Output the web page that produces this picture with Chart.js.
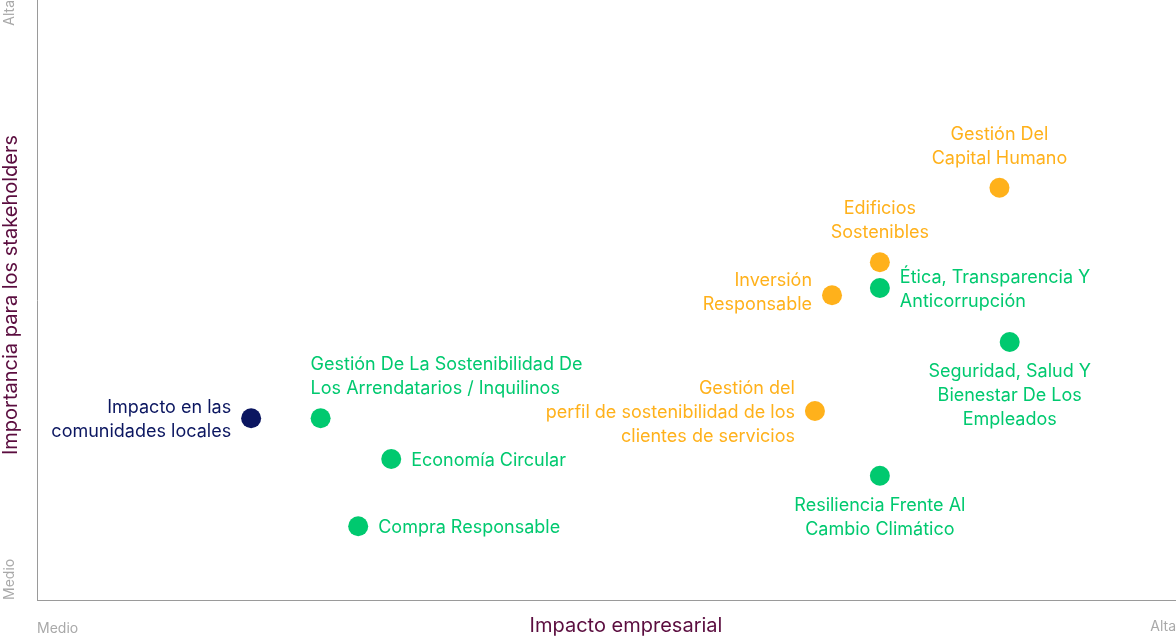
<!DOCTYPE html>
<html>
<head>
<meta charset="utf-8">
<script src="https://cdn.jsdelivr.net/npm/chart.js@4"></script>
<style>
  html, body { margin: 0; padding: 0; background: #fff; }
  #wrap { width: 1176px; height: 639px; position: relative; }
</style>
</head>
<body>
<div id="wrap"><canvas id="matrix"></canvas></div>
<script>
// materiality matrix — values on a 0..100 scale (Medio -> Alta)
const topics = [
  'Impacto en las\ncomunidades locales',
  'Gestión De La Sostenibilidad De\nLos Arrendatarios / Inquilinos',
  'Economía Circular',
  'Compra Responsable',
  'Gestión Del\nCapital Humano',
  'Edificios\nSostenibles',
  'Ética, Transparencia Y\nAnticorrupción',
  'Inversión\nResponsable',
  'Seguridad, Salud Y\nBienestar De Los\nEmpleados',
  'Gestión del\nperfil de sostenibilidad de los\nclientes de servicios',
  'Resiliencia Frente Al\nCambio Climático'
];
const impactoEmpresarial = [18.8, 24.9, 31.1, 28.2, 84.5, 74.0, 74.0, 69.8, 85.4, 68.3, 74.0];
const importanciaStakeholders = [30.3, 30.3, 23.5, 12.3, 68.7, 56.3, 52.0, 50.8, 43.0, 31.5, 20.7];
const grupo = ['social', 'ambiental', 'ambiental', 'ambiental', 'gobierno', 'gobierno', 'ambiental', 'gobierno', 'ambiental', 'gobierno', 'ambiental'];
// where the label sits relative to its dot
const labelPos = ['left', 'above', 'right', 'right', 'above', 'above', 'right', 'left', 'below', 'left', 'below'];

const COLORS = { social: '#0b1660', ambiental: '#00c96f', gobierno: '#ffb11b' };
const FONT = "Inter, 'Open Sans', sans-serif";

const points = impactoEmpresarial.map((x, i) => ({ x, y: importanciaStakeholders[i] }));

const labelsPlugin = {
  id: 'matrixLabels',
  afterDatasetsDraw(chart) {
    const ctx = chart.ctx;
    const meta = chart.getDatasetMeta(0);
    const lh = 24;
    ctx.save();
    ctx.font = '18px ' + FONT;
    ctx.textBaseline = 'middle';
    meta.data.forEach((pt, i) => {
      const lines = topics[i].split('\n');
      const n = lines.length;
      ctx.fillStyle = COLORS[grupo[i]];
      let x = pt.x, y0;
      const pos = labelPos[i];
      if (pos === 'left') {
        ctx.textAlign = 'right';
        x = pt.x - 20;
        y0 = pt.y - (n - 1) * lh / 2;
        if (i === 7) y0 -= 4;
      } else if (pos === 'right') {
        ctx.textAlign = 'left';
        x = pt.x + 20;
        y0 = pt.y - (n - 1) * lh / 2;
      } else if (pos === 'above') {
        ctx.textAlign = i === 1 ? 'left' : 'center';
        if (i === 1) x = pt.x - 10;
        y0 = pt.y - 31 - (n - 1) * lh;
      } else {
        ctx.textAlign = 'center';
        y0 = pt.y + 28;
      }
      lines.forEach((ln, k) => ctx.fillText(ln, x, y0 + k * lh + 1.5));
    });
    ctx.restore();
  }
};

const axisTextPlugin = {
  id: 'axisText',
  afterDraw(chart) {
    const ctx = chart.ctx;
    const a = chart.chartArea;
    ctx.save();
    // end labels
    ctx.fillStyle = '#a9a9a9';
    ctx.font = '14px ' + FONT;
    ctx.textBaseline = 'middle';
    ctx.textAlign = 'left';
    ctx.fillText('Medio', a.left, a.bottom + 29);
    ctx.textAlign = 'right';
    ctx.fillText('Alta', a.right, a.bottom + 27);
    ctx.save();
    ctx.translate(10, a.top);
    ctx.rotate(-Math.PI / 2);
    ctx.textAlign = 'right';
    ctx.fillText('Alta', 0, 0);
    ctx.restore();
    ctx.save();
    ctx.translate(10, a.bottom);
    ctx.rotate(-Math.PI / 2);
    ctx.textAlign = 'left';
    ctx.fillText('Medio', 0, 0);
    ctx.restore();
    // axis titles
    ctx.fillStyle = '#5b0d3f';
    ctx.font = '20px ' + FONT;
    ctx.textAlign = 'center';
    ctx.fillText('Impacto empresarial', 626, a.bottom + 26);
    ctx.save();
    ctx.translate(11, 295);
    ctx.rotate(-Math.PI / 2);
    ctx.fillText('Importancia para los stakeholders', 0, 0);
    ctx.restore();
    ctx.restore();
  }
};

new Chart(document.getElementById('matrix').getContext('2d'), {
  type: 'scatter',
  data: {
    datasets: [{
      data: points,
      backgroundColor: grupo.map(g => COLORS[g]),
      borderWidth: 0,
      pointRadius: 10,
      pointHoverRadius: 10
    }]
  },
  options: {
    responsive: true,
    maintainAspectRatio: false,
    animation: false,
    layout: { autoPadding: false, padding: { left: 37, bottom: 39, top: 0, right: 0 } },
    plugins: { legend: { display: false }, tooltip: { enabled: false } },
    scales: {
      x: {
        min: 0, max: 100,
        ticks: { display: false },
        grid: { display: false },
        border: { display: true, color: '#9a9a9a', width: 1 },
        afterFit: s => { s.height = 0; }
      },
      y: {
        min: 0, max: 100,
        ticks: { display: false },
        grid: { display: false },
        border: { display: true, color: '#9a9a9a', width: 1 },
        afterFit: s => { s.width = 0; }
      }
    }
  },
  plugins: [labelsPlugin, axisTextPlugin]
});
</script>
</body>
</html>
